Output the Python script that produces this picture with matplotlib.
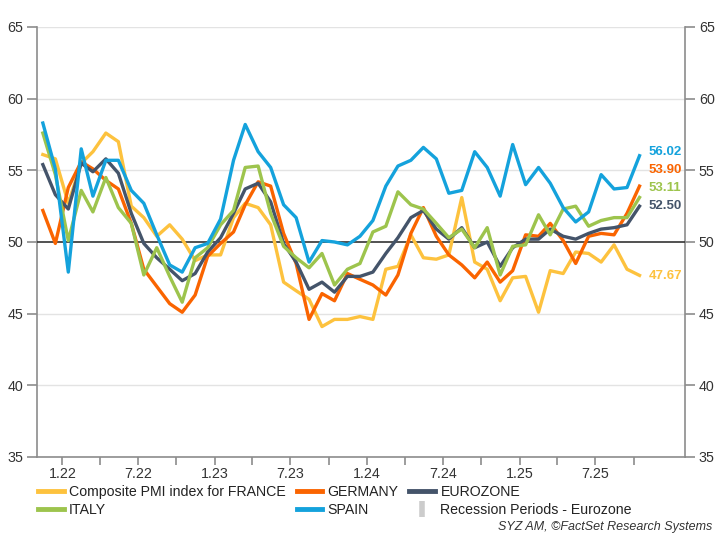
import matplotlib
matplotlib.use('Agg')
import matplotlib.pyplot as plt
from matplotlib.lines import Line2D
import pandas as pd

plt.rcParams['font.family'] = ['Liberation Sans', 'DejaVu Sans']

# Monthly data Nov 2021 - Oct 2025 (plotted mid-month)
dates = pd.date_range('2021-11-01', '2025-10-01', freq='MS') + pd.Timedelta(days=14)

france = [56.1, 55.8,
          52.7, 55.5, 56.3, 57.6, 57.0, 52.5, 51.7, 50.4, 51.2, 50.2, 48.7, 49.1,
          49.1, 51.7, 52.7, 52.4, 51.2, 47.2, 46.6, 46.0, 44.1, 44.6, 44.6, 44.8,
          44.6, 48.1, 48.3, 50.5, 48.9, 48.8, 49.1, 53.1, 48.6, 48.1, 45.9, 47.5,
          47.6, 45.1, 48.0, 47.8, 49.3, 49.2, 48.6, 49.8, 48.1, 47.67]
germany = [52.2, 49.9,
           53.8, 55.6, 55.1, 54.3, 53.7, 51.3, 48.1, 46.9, 45.7, 45.1, 46.3, 49.0,
           49.9, 50.7, 52.6, 54.2, 53.9, 50.6, 48.5, 44.6, 46.4, 45.9, 47.8, 47.4,
           47.0, 46.3, 47.7, 50.6, 52.4, 50.4, 49.1, 48.4, 47.5, 48.6, 47.2, 48.0,
           50.5, 50.4, 51.3, 50.1, 48.5, 50.4, 50.6, 50.5, 52.0, 53.90]
eurozone = [55.4, 53.3,
            52.3, 55.5, 54.9, 55.8, 54.8, 52.0, 49.9, 48.9, 48.1, 47.3, 47.8, 49.3,
            50.3, 52.0, 53.7, 54.1, 52.8, 49.9, 48.6, 46.7, 47.2, 46.5, 47.6, 47.6,
            47.9, 49.2, 50.3, 51.7, 52.2, 50.9, 50.2, 51.0, 49.6, 50.0, 48.3, 49.6,
            50.2, 50.2, 50.9, 50.4, 50.2, 50.6, 50.9, 51.0, 51.2, 52.50]
italy = [57.6, 54.7,
         50.1, 53.6, 52.1, 54.5, 52.4, 51.3, 47.7, 49.6, 47.6, 45.8, 48.9, 49.6,
         51.2, 52.2, 55.2, 55.3, 52.0, 49.7, 48.9, 48.2, 49.2, 47.0, 48.1, 48.5,
         50.7, 51.1, 53.5, 52.6, 52.3, 51.3, 50.3, 50.9, 49.6, 51.0, 47.7, 49.7,
         49.8, 51.9, 50.5, 52.3, 52.5, 51.1, 51.5, 51.7, 51.7, 53.11]
spain = [58.3, 55.1,
         47.9, 56.5, 53.2, 55.7, 55.7, 53.6, 52.7, 50.5, 48.4, 47.9, 49.6, 49.9,
         51.6, 55.7, 58.2, 56.3, 55.2, 52.6, 51.7, 48.6, 50.1, 50.0, 49.8, 50.4,
         51.5, 53.9, 55.3, 55.7, 56.6, 55.8, 53.4, 53.6, 56.3, 55.2, 53.2, 56.8,
         54.0, 55.2, 54.1, 52.4, 51.4, 52.1, 54.7, 53.7, 53.8, 56.02]

series_names = ['Composite PMI index for FRANCE', 'GERMANY', 'EUROZONE', 'ITALY', 'SPAIN']
series_values = [france, germany, eurozone, italy, spain]
series_colors = ['#FDC23E', '#FA6400', '#44546A', '#9DC44D', '#14A2DC']
label_offsets_px = [-1, 16, 0, 9, 4]  # vertical nudges for end labels

yticks = [35, 40, 45, 50, 55, 60, 65]

fig = plt.figure(figsize=(7.21, 5.41), dpi=100)
ax = fig.add_axes([37/721, 84/541, 648/721, 430/541])

for y in yticks:
    if y == 50:
        ax.axhline(y, color='#333333', lw=1.2, zorder=3)
    else:
        ax.axhline(y, color='#e3e3e3', lw=1.0, zorder=1)

for name, vals, col in zip(series_names, series_values, series_colors):
    ax.plot(dates, vals, color=col, lw=2.4, solid_joinstyle='round', zorder=4, label=name)

for vals, col, off in zip(series_values, series_colors, label_offsets_px):
    ax.annotate(f'{vals[-1]:.2f}', xy=(dates[-1], vals[-1]), xytext=(9, off),
                textcoords='offset pixels', ha='left', va='center',
                color=col, fontsize=9.5, fontweight='bold', zorder=6)

ax.set_xlim(pd.Timestamp('2021-11-01'), pd.Timestamp('2026-02-01'))
ax.set_ylim(35, 65)
ax.set_yticks(yticks)

tick_dates = pd.date_range('2022-01-01', '2025-10-01', freq='3MS')
ax.set_xticks(tick_dates)
ax.set_xticklabels([f'{d.month}.{d.year % 100:02d}' if d.month in (1, 7) else '' for d in tick_dates])

ax.tick_params(axis='y', which='both', left=True, right=True, labelleft=True, labelright=True,
               length=7, width=1.2, color='#8c8c8c', pad=3, labelsize=10.3, labelcolor='#333333')
ax.tick_params(axis='x', length=6, width=1.2, color='#8c8c8c', pad=1.5, labelsize=10.3,
               labelcolor='#333333')

for s in ['left', 'right', 'bottom']:
    ax.spines[s].set_color('#8c8c8c')
    ax.spines[s].set_linewidth(1.2)
ax.spines['top'].set_visible(False)

handles = [Line2D([], [], color=c, lw=3.5) for c in series_colors]
rec = Line2D([], [], color='#cccccc', marker='|', linestyle='none', markersize=11, markeredgewidth=4)
order_h = [handles[0], handles[3], handles[1], handles[4], handles[2], rec]
order_l = [series_names[0], series_names[3], series_names[1], series_names[4], series_names[2],
           'Recession Periods - Eurozone']
fig.legend(order_h, order_l, loc='upper left', bbox_to_anchor=(38/721, 1 - 485/541),
           ncol=3, frameon=False, fontsize=10.2, handlelength=1.8, handletextpad=0.4,
           columnspacing=0.75, labelspacing=0.25, borderpad=0, borderaxespad=0,
           labelcolor='#222222')

fig.text(712/721, 1 - 527/541, 'SYZ AM, ©FactSet Research Systems', ha='right', va='center',
         style='italic', fontsize=9, color='#333333')

fig.savefig('out.png', dpi=100)
